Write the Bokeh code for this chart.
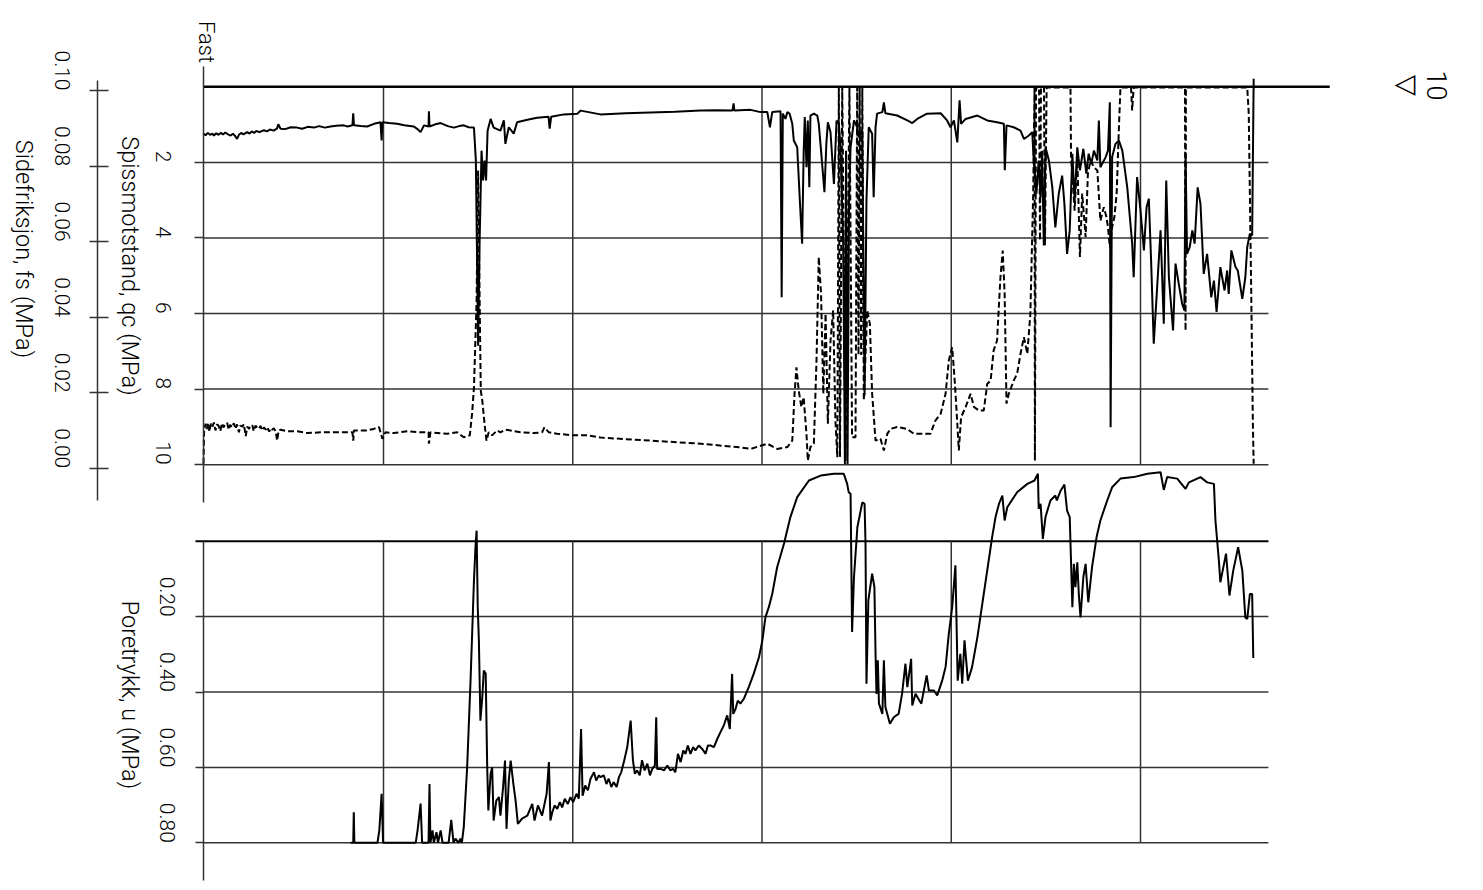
import math
from bokeh.plotting import figure
from bokeh.models import Range1d, LinearAxis, FixedTicker, Label, NumeralTickFormatter
from bokeh.embed import file_html
from bokeh.resources import INLINE

# ---------------- data ----------------
qc_depth = [
    0.24, 0.30, 0.36, 0.42, 0.48, 0.52, 0.58, 0.64, 0.70, 0.76,
    0.82, 0.88, 0.96, 1.02, 1.08, 1.13, 1.18, 1.24, 1.30, 1.40,
    1.46, 1.52, 1.58, 1.64, 1.72, 1.84, 1.92, 2.00, 2.10, 2.19,
    2.22, 2.28, 2.40, 2.55, 2.72, 2.85, 3.00, 3.16, 3.30, 3.45,
    3.60, 3.75, 3.95, 4.05, 4.18, 4.20, 4.22, 4.40, 4.57, 4.75,
    4.92, 4.95, 4.97, 5.15, 5.36, 5.55, 5.80, 5.90, 5.98, 6.07,
    6.19, 6.20, 6.215, 6.35, 6.51, 6.70, 6.86, 7.00, 7.12, 7.25,
    7.39, 7.44, 7.50, 7.54, 7.59, 7.63, 7.67, 7.71, 7.75, 7.83,
    7.91, 8.09, 8.18, 8.22, 8.31, 8.44, 8.53, 8.80, 9.06, 9.36,
    9.39, 9.43, 9.76, 10.12, 10.21, 10.73, 11.40, 12.05, 12.70, 13.38,
    13.80, 14.22, 14.25, 14.27, 14.70, 14.96, 15.14, 15.21, 15.27, 15.49,
    15.52, 15.55, 15.62, 15.67, 15.73, 15.80, 15.84, 15.93, 16.00, 16.06,
    16.10, 16.13, 16.175, 16.21, 16.25, 16.28, 16.37, 16.46, 16.50, 16.56,
    16.65, 16.70, 16.74, 16.81, 16.90, 16.97, 17.03, 17.07, 17.145, 17.19,
    17.22, 17.26, 17.30, 17.34, 17.43, 17.515, 17.56, 17.65, 17.71, 17.76,
    17.82, 17.91, 17.95, 18.00, 18.04, 18.18, 18.22, 18.26, 18.57, 18.84,
    18.97, 19.10, 19.36, 19.72, 19.89, 19.98, 20.07, 20.16, 20.22, 20.26,
    20.38, 20.69, 20.95, 21.21, 21.39, 21.415, 21.46, 21.65, 21.83, 21.92,
    22.05, 22.14, 22.18, 22.25, 22.31, 22.36, 22.40, 22.445, 22.49, 22.58,
    22.67, 22.75, 22.84, 22.93, 22.99, 23.06, 23.13, 23.20, 23.26, 23.33,
    23.40, 23.49, 23.57, 23.63, 23.70, 23.77, 23.86, 23.90, 23.94, 24.08,
    24.14, 24.19, 24.21, 24.25, 24.34, 24.43, 24.52, 24.65, 24.78, 24.82,
    24.91, 25.00, 25.09, 25.16, 25.22, 25.28, 25.35, 25.44, 25.53, 25.615,
    25.68, 25.75, 25.86, 25.925, 26.01, 26.10, 26.16, 26.19, 26.23, 26.30,
    26.37, 26.43, 26.51, 26.585, 26.67, 26.76, 26.87, 26.94, 27.01, 27.11,
    27.22, 27.29, 27.33, 27.40, 27.51, 27.57, 27.69, 27.77, 27.82, 27.89,
    27.95, 27.99,
]
qc_mpa = [
    1.24, 1.28, 1.22, 1.27, 1.24, 1.29, 1.23, 1.27, 1.22, 1.26,
    1.21, 1.25, 1.29, 1.24, 1.30, 1.38, 1.27, 1.22, 1.26, 1.20,
    1.24, 1.18, 1.22, 1.17, 1.20, 1.15, 1.18, 1.13, 1.16, 1.10,
    0.99, 1.11, 1.12, 1.07, 1.08, 1.11, 1.06, 1.08, 1.04, 1.08,
    1.05, 1.03, 1.02, 1.05, 1.02, 0.70, 1.02, 1.04, 1.05, 0.98,
    0.94, 1.42, 0.94, 0.96, 0.98, 1.02, 1.05, 1.12, 1.20, 1.02,
    1.05, 0.65, 1.05, 1.00, 0.96, 1.04, 1.08, 1.04, 1.02, 1.07,
    1.08, 1.95, 6.85, 4.07, 1.69, 2.48, 1.95, 2.48, 1.16, 0.85,
    1.08, 1.16, 0.89, 1.51, 1.07, 1.24, 0.94, 0.87, 0.82, 0.79,
    1.11, 0.79, 0.73, 0.71, 0.63, 0.73, 0.70, 0.68, 0.66, 0.63,
    0.62, 0.63, 0.44, 0.63, 0.61, 0.67, 0.67, 1.07, 0.67, 0.65,
    5.57, 0.71, 0.85, 0.67, 0.71, 0.98, 1.42, 1.60, 3.01, 4.15,
    1.77, 0.80, 2.13, 0.89, 2.66, 0.76, 0.71, 0.76, 0.98, 1.69,
    2.79, 1.51, 0.94, 1.20, 2.57, 0.89, 0.98, 1.51, 4.07, 9.98,
    1.69, 9.98, 3.01, 1.60, 0.89, 1.07, 1.33, 1.16, 8.17, 3.01,
    1.07, 1.24, 2.92, 1.07, 0.71, 0.67, 0.41, 0.70, 0.76, 0.89,
    0.96, 0.85, 0.71, 0.70, 0.89, 1.07, 0.89, 1.47, 0.36, 0.98,
    0.85, 0.76, 0.89, 0.94, 0.98, 2.21, 1.02, 1.07, 1.16, 1.38,
    1.29, 1.20, 1.95, 2.83, 1.95, 2.92, 1.69, 4.20, 1.60, 1.95,
    2.66, 3.72, 2.83, 2.35, 3.10, 4.42, 3.80, 1.77, 3.01, 1.60,
    2.21, 1.64, 2.30, 1.77, 2.04, 1.69, 1.95, 0.89, 2.13, 1.86,
    1.69, 0.41, 9.01, 1.86, 1.51, 1.42, 1.69, 2.66, 4.15, 5.04,
    2.39, 3.27, 4.33, 3.19, 2.96, 4.60, 6.80, 5.30, 3.80, 6.27,
    2.48, 5.04, 6.45, 4.68, 5.21, 5.74, 5.92, 1.77, 4.42, 4.24,
    3.80, 4.15, 2.66, 3.10, 4.95, 4.42, 5.57, 5.13, 5.96, 4.77,
    5.39, 4.86, 5.48, 4.33, 4.77, 4.86, 5.61, 5.04, 4.24, 3.89,
    3.93, -0.21,
]

fs_depth = [
    0.244, 0.26, 0.30, 0.33, 0.37, 0.40, 0.44, 0.48, 0.52, 0.56,
    0.60, 0.64, 0.69, 0.73, 0.77, 0.82, 0.87, 0.91, 0.95, 1.00,
    1.045, 1.09, 1.13, 1.18, 1.22, 1.27, 1.31, 1.36, 1.40, 1.45,
    1.49, 1.54, 1.57, 1.62, 1.66, 1.71, 1.75, 1.80, 1.84, 1.89,
    1.93, 1.98, 2.02, 2.06, 2.10, 2.15, 2.19, 2.23, 2.28, 2.46,
    2.72, 2.98, 3.34, 3.69,
    4.04, 4.18, 4.20, 4.22, 4.57, 4.74, 4.88, 4.97, 5.05, 5.27,
    5.63, 5.98, 6.19, 6.20, 6.24, 6.68, 6.95, 7.12, 7.28, 7.34,
    7.39, 7.46, 7.50, 7.54, 7.57, 7.61, 7.67, 7.72, 7.78, 7.87,
    8.00, 8.09, 8.22, 8.355, 8.62, 8.97, 9.19, 9.25, 9.37, 9.59,
    10.03, 10.38, 10.73, 12.05, 13.38, 14.43, 14.70, 15.14, 15.40, 15.67,
    15.80, 15.86, 15.91, 15.97, 16.04, 16.10, 16.175, 16.21, 16.28, 16.37,
    16.44, 16.50, 16.56, 16.62, 16.68, 16.74, 16.81, 16.88, 16.94, 16.99,
    17.03, 17.06, 17.12, 17.21, 17.31, 17.38, 17.47, 17.515, 17.55, 17.58,
    17.62, 17.65, 17.69, 17.78, 17.85, 17.91, 18.00, 18.13, 18.22, 18.31,
    18.395, 18.57, 18.84, 19.01, 19.45, 19.58, 19.72, 19.85, 19.935, 20.025,
    20.085, 20.14, 20.20, 20.26, 20.38, 20.51, 20.60, 20.73, 20.86, 20.95,
    21.04, 21.12, 21.21, 21.30, 21.36, 21.41, 21.46, 21.52, 21.65, 21.74,
    21.83, 21.92, 22.01, 22.09, 22.165, 22.20, 22.21, 22.24, 22.32, 22.345,
    22.37, 22.45, 22.475, 22.52, 23.15, 23.165, 23.20, 23.26, 23.33, 23.40,
    23.46, 23.55, 23.61, 23.68, 23.77, 23.86, 23.94, 24.03, 24.10, 24.14,
    24.19, 24.25, 24.31, 24.37, 24.43, 24.47, 24.75, 24.78, 24.82, 26.175,
    26.19, 26.20, 27.82, 27.86, 27.925, 27.97, 27.99,
]
fs_mpa = [
    0.0012, 0.0100, 0.0118, 0.0104, 0.0120, 0.0097, 0.0118, 0.0110, 0.0121, 0.0100,
    0.0116, 0.0113, 0.0098, 0.0119, 0.0108, 0.0117, 0.0120, 0.0102, 0.0115, 0.0108,
    0.0119, 0.0104, 0.0116, 0.0095, 0.0113, 0.0110, 0.0117, 0.0085, 0.0110, 0.0104,
    0.0114, 0.0112, 0.0098, 0.0113, 0.0108, 0.0104, 0.0112, 0.0100, 0.0108, 0.0102,
    0.0109, 0.0097, 0.0106, 0.0102, 0.0106, 0.0098, 0.0073, 0.0100, 0.0102, 0.0098,
    0.0098, 0.0093, 0.0095, 0.0095,
    0.0095, 0.0095, 0.0073, 0.0100, 0.0100, 0.0104, 0.0109, 0.0078, 0.0095, 0.0093,
    0.0098, 0.0095, 0.0095, 0.0065, 0.0095, 0.0091, 0.0095, 0.0082, 0.0087, 0.0144,
    0.0214, 0.0444, 0.0788, 0.0444, 0.0206, 0.0179, 0.0118, 0.0073, 0.0095, 0.0087,
    0.0100, 0.0095, 0.0102, 0.0100, 0.0095, 0.0093, 0.0095, 0.0108, 0.0095, 0.0091,
    0.0087, 0.0087, 0.0081, 0.0073, 0.0065, 0.0055, 0.0051, 0.0065, 0.0051, 0.0056,
    0.0073, 0.0197, 0.0267, 0.0206, 0.0162, 0.0188, 0.0091, 0.0020, 0.0056, 0.0065,
    0.0285, 0.0559, 0.0462, 0.0197, 0.0409, 0.0118, 0.0338, 0.0418, 0.0126, 0.0029,
    0.1008, 0.0030, 0.1008, 0.0020, 0.1008, 0.0082, 0.0082, 0.1008, 0.0300, 0.1008,
    0.0300, 0.1008, 0.0179, 0.0418, 0.0382, 0.0197, 0.0073, 0.0078, 0.0047, 0.0091,
    0.0104, 0.0109, 0.0104, 0.0091, 0.0091, 0.0126, 0.0144, 0.0197, 0.0285, 0.0320,
    0.0241, 0.0153, 0.0047, 0.0135, 0.0162, 0.0197, 0.0162, 0.0153, 0.0153, 0.0223,
    0.0232, 0.0312, 0.0338, 0.0506, 0.0576, 0.0462, 0.0171, 0.0197, 0.0232, 0.0250,
    0.0303, 0.0347, 0.0303, 0.0409, 0.0727, 0.1008, 0.0020, 0.1008, 0.1008, 0.0603,
    0.1008, 0.1008, 0.0590, 0.1008, 0.1008, 0.0823, 0.0770, 0.0682, 0.0823, 0.0559,
    0.0727, 0.0612, 0.0779, 0.0815, 0.0797, 0.0788, 0.0655, 0.0691, 0.0665, 0.0638,
    0.0585, 0.0638, 0.0665, 0.0727, 0.0903, 0.1008, 0.1008, 0.0947, 0.1008, 0.1008,
    0.0364, 0.1008, 0.1008, 0.0938, 0.0470, 0.0109, 0.0012,
]

u_depth = [
    4.13, 4.20, 4.215, 4.23, 4.84, 4.89, 4.95, 4.99, 5.85, 5.90,
    5.98, 6.02, 6.19, 6.215, 6.24, 6.295, 6.33, 6.40, 6.44, 6.51,
    6.56, 6.72, 6.79, 6.85, 6.90, 6.98, 7.03, 7.07, 7.12, 7.21,
    7.30, 7.39, 7.43, 7.46, 7.49, 7.52, 7.56, 7.61, 7.65, 7.70,
    7.74, 7.77, 7.83, 7.87, 7.91, 7.98, 8.05, 8.09, 8.16, 8.21,
    8.25, 8.31, 8.36, 8.43, 8.49, 8.55, 8.66, 8.80, 8.93, 8.99,
    9.08, 9.19, 9.31, 9.37, 9.41, 9.46, 9.52, 9.59, 9.66, 9.72,
    9.79, 9.87, 9.94, 10.01, 10.10, 10.16, 10.22, 10.26, 10.33, 10.40,
    10.47, 10.56, 10.62, 10.69, 10.73, 10.82, 10.89, 10.95, 11.02, 11.08,
    11.16, 11.22, 11.28, 11.35, 11.44, 11.53, 11.59, 11.64, 11.70, 11.77,
    11.83, 11.90, 11.97, 12.04, 12.10, 12.17, 12.205, 12.23, 12.32, 12.41,
    12.50, 12.58, 12.65, 12.71, 12.78, 12.85, 12.92, 12.98, 13.04, 13.11,
    13.18, 13.24, 13.33, 13.42, 13.51, 13.57, 13.64, 13.73, 13.82, 13.90,
    13.99, 14.08, 14.15, 14.21, 14.24, 14.30, 14.36, 14.43, 14.52,
    14.65, 14.78, 14.92, 15.01, 15.09, 15.18, 15.27, 15.40, 15.58, 15.75,
    15.93, 16.24, 16.55, 16.90, 17.16, 17.25, 17.29, 17.34, 17.38, 17.43,
    17.52, 17.65, 17.71, 17.735, 17.76, 17.81, 17.91, 17.97, 18.00, 18.025,
    18.06, 18.09, 18.18, 18.22, 18.26, 18.38, 18.48, 18.61, 18.70, 18.79,
    18.84, 18.94, 18.97, 19.055, 19.21, 19.35, 19.41, 19.54, 19.63, 19.76,
    19.85, 19.935, 20.025, 20.11, 20.17, 20.24, 20.29, 20.35, 20.44, 20.55,
    20.69, 20.82, 20.95, 21.08, 21.17, 21.26, 21.35, 21.41, 21.48, 21.74,
    22.01, 22.20, 22.29, 22.31, 22.36, 22.42, 22.49, 22.62, 22.75, 22.79,
    22.89, 22.99, 23.06, 23.13, 23.20, 23.24, 23.28, 23.33, 23.37, 23.415,
    23.49, 23.55, 23.62, 23.72, 23.84, 23.94, 24.12, 24.25, 24.47, 24.82,
    25.18, 25.53, 25.615, 25.705, 25.97, 26.19, 26.28, 26.585, 26.76, 26.94,
    26.98, 27.07, 27.11, 27.26, 27.35, 27.45, 27.58, 27.69, 27.77, 27.82,
    27.89, 27.95, 27.98,
]
u_mpa = [
    0.80, 0.80, 0.719, 0.80, 0.80, 0.767, 0.670, 0.80, 0.80, 0.767,
    0.696, 0.80, 0.80, 0.644, 0.80, 0.767, 0.80, 0.772, 0.80, 0.767,
    0.80, 0.80, 0.739, 0.80, 0.789, 0.80, 0.789, 0.80, 0.759, 0.600,
    0.369, 0.104, 0.016, -0.028, 0.175, 0.263, 0.476, 0.414, 0.343, 0.351,
    0.600, 0.714, 0.617, 0.600, 0.741, 0.688, 0.679, 0.728, 0.652, 0.582,
    0.763, 0.635, 0.582, 0.643, 0.688, 0.750, 0.736, 0.728, 0.697, 0.741,
    0.701, 0.728, 0.670, 0.586, 0.741, 0.719, 0.701, 0.710, 0.692, 0.706,
    0.683, 0.697, 0.679, 0.692, 0.670, 0.683, 0.498, 0.675, 0.648, 0.661,
    0.630, 0.613, 0.635, 0.621, 0.626, 0.621, 0.644, 0.630, 0.652, 0.639,
    0.652, 0.626, 0.613, 0.586, 0.546, 0.476, 0.581, 0.617, 0.608, 0.621,
    0.581, 0.608, 0.590, 0.621, 0.604, 0.595, 0.467, 0.604, 0.604, 0.608,
    0.595, 0.608, 0.604, 0.613, 0.564, 0.586, 0.555, 0.564, 0.542, 0.564,
    0.546, 0.555, 0.542, 0.551, 0.564, 0.542, 0.542, 0.546, 0.524, 0.507,
    0.489, 0.462, 0.498, 0.352, 0.458, 0.445, 0.423, 0.431, 0.418,
    0.387, 0.352, 0.308, 0.263, 0.202, 0.175, 0.140, 0.069, 0.007, -0.064,
    -0.117, -0.161, -0.174, -0.179, -0.179, -0.152, -0.130, -0.126, 0.241, 0.095,
    -0.037, -0.103, -0.099, 0.007, 0.378, 0.157, 0.086, 0.122, 0.299, 0.405,
    0.316, 0.431, 0.458, 0.316, 0.440, 0.484, 0.467, 0.458, 0.405, 0.325,
    0.387, 0.312, 0.436, 0.405, 0.431, 0.356, 0.396, 0.396, 0.409, 0.370,
    0.334, 0.246, 0.175, 0.064, 0.370, 0.299, 0.378, 0.263, 0.370, 0.334,
    0.255, 0.166, 0.078, -0.011, -0.064, -0.099, -0.121, -0.055, -0.090, -0.130,
    -0.152, -0.161, -0.179, -0.086, -0.099, -0.006, -0.064, -0.108, -0.121, -0.108,
    -0.134, -0.150, -0.081, -0.064, 0.175, 0.060, 0.122, 0.056, 0.140, 0.202,
    0.095, 0.060, 0.162, 0.069, -0.011, -0.055, -0.108, -0.143, -0.166, -0.170,
    -0.179, -0.183, -0.136, -0.170, -0.166, -0.139, -0.156, -0.170, -0.156, -0.152,
    -0.055, 0.051, 0.109, 0.033, 0.144, 0.078, 0.016, 0.078, 0.202, 0.206,
    0.140, 0.140, 0.310,
]

assert len(qc_depth) == len(qc_mpa)
assert len(fs_depth) == len(fs_mpa)
assert len(u_depth) == len(u_mpa)

qc_ticks = [2, 4, 6, 8, 10]
fs_ticks = [0.0, 0.02, 0.04, 0.06, 0.08, 0.10]
u_ticks = [0.2, 0.4, 0.6, 0.8]
depth_grid = [5, 10, 15, 20, 25]
start_depth = 0.244
grid_end_depth = 28.38
scale_end_depth = 30.0

qc_title = "Spissmotstand, qc (MPa)"
fs_title = "Sidefriksjon, fs (MPa)"
u_title = "Poretrykk, u (MPa)"
top_note = "Fast"
hole_id = "10"
water_mark = "\u25BD"

# ---------------- layout ----------------
W, H = 1475, 882
OFF = 0
FONT = "Roboto Light"
INK = "#000000"
GRID = "#333333"
ROT = -math.pi / 2


def affine(v0, p0, v1, p1):
    k = (v1 - v0) / (p1 - p0)
    return lambda px: v0 + (px - p0) * k


# page pixel -> data value, for each scale
dx = affine(5.0, 383.0, 25.0, 1140.0)
dqc = affine(0.0, 86.3, 10.0, 464.2)
dfs = affine(0.0, 467.7, 0.10, 90.0)
du = affine(0.0, 540.7, 0.8, 842.3)

LEFT, RIGHT, TOP, BOTTOM = OFF, OFF + W, OFF, OFF + H

p = figure(
    width=W, height=H,
    x_range=Range1d(dx(LEFT), dx(RIGHT)),
    y_range=Range1d(dqc(BOTTOM), dqc(TOP)),
    output_backend="svg", toolbar_location=None,
    x_axis_location=None, y_axis_location=None,
    min_border=0,
)
p.extra_y_ranges = {
    "fs": Range1d(dfs(BOTTOM), dfs(TOP)),
    "u": Range1d(du(BOTTOM), du(TOP)),
}
p.outline_line_color = None
p.background_fill_color = "white"
p.border_fill_color = "white"
p.xgrid.grid_line_color = None
p.ygrid.grid_line_color = None


def style_axis(ax, tick_out, tick_in, standoff):
    ax.axis_line_color = GRID
    ax.axis_line_width = 1.5
    ax.major_tick_line_color = GRID
    ax.major_tick_line_width = 1.5
    ax.major_tick_out = tick_out
    ax.major_tick_in = tick_in
    ax.minor_tick_out = 0
    ax.minor_tick_in = 0
    ax.major_label_orientation = ROT
    ax.major_label_standoff = standoff
    ax.major_label_text_font = FONT
    ax.major_label_text_font_size = "21px"
    ax.major_label_text_color = INK


ax_qc = LinearAxis(ticker=FixedTicker(ticks=qc_ticks), fixed_location=start_depth,
                   bounds=(dqc(66), dqc(502)))
style_axis(ax_qc, 9, 0, 31)
p.add_layout(ax_qc, "left")

ax_fs = LinearAxis(y_range_name="fs", ticker=FixedTicker(ticks=fs_ticks),
                   formatter=NumeralTickFormatter(format="0.00"),
                   fixed_location=dx(97), bounds=(dfs(500), dfs(80)))
style_axis(ax_fs, 8, 11, 27)
p.add_layout(ax_fs, "left")

ax_u = LinearAxis(y_range_name="u", ticker=FixedTicker(ticks=u_ticks),
                  formatter=NumeralTickFormatter(format="0.00"),
                  fixed_location=start_depth, bounds=(0.0, du(880)))
style_axis(ax_u, 8, 0, 28)
p.add_layout(ax_u, "left")

# ---- upper panel frame / grid ----
n = len(qc_ticks)
p.segment(x0=[start_depth] * n, y0=qc_ticks, x1=[grid_end_depth] * n, y1=qc_ticks,
          line_color=GRID, line_width=1.5)
m = len(depth_grid)
p.segment(x0=depth_grid, y0=[0] * m, x1=depth_grid, y1=[10] * m,
          line_color=GRID, line_width=1.5)
p.segment(x0=[start_depth], y0=[0], x1=[scale_end_depth], y1=[0],
          line_color=INK, line_width=2.5)

# ---- lower panel frame / grid ----
k = len(u_ticks)
p.segment(x0=[start_depth] * k, y0=u_ticks, x1=[grid_end_depth] * k, y1=u_ticks,
          line_color=GRID, line_width=1.5, y_range_name="u")
p.segment(x0=[dx(195)], y0=[0], x1=[grid_end_depth], y1=[0],
          line_color=INK, line_width=2, y_range_name="u")
p.segment(x0=depth_grid, y0=[0] * m, x1=depth_grid, y1=[u_ticks[-1]] * m,
          line_color=GRID, line_width=1.5, y_range_name="u")

# ---- curves ----
p.line(qc_depth, qc_mpa, line_color=INK, line_width=2)
p.line(fs_depth, fs_mpa, line_color=INK, line_width=2, line_dash="6 3",
       y_range_name="fs")
p.line(u_depth, u_mpa, line_color=INK, line_width=2, y_range_name="u")

# ---- texts ----
def rot_label(text, xpix, ypix, ymap, rng=None, size="23.5px"):
    kw = dict(x=dx(xpix), y=ymap(ypix), text=text, angle=ROT,
              text_align="center", text_baseline="middle",
              text_font=FONT, text_font_size=size, text_color=INK)
    if rng:
        kw["y_range_name"] = rng
    p.add_layout(Label(**kw))


rot_label(qc_title, 129, 265.5, dqc)
rot_label(fs_title, 23, 248.5, dqc)
rot_label(u_title, 129, 694.5, du, rng="u")
rot_label(top_note, 206, 41.5, dqc, size="22px")
rot_label(hole_id, 1436, 85, dqc, size="27px")
rot_label(water_mark, 1406, 85, dqc, size="27px")

open("out.html", "w").write(file_html(p, INLINE))
